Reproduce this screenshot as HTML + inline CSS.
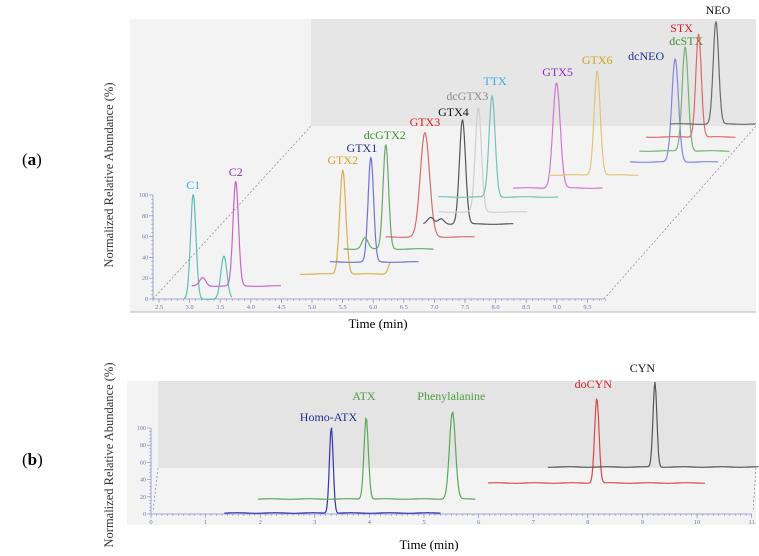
<!DOCTYPE html>
<html><head><meta charset="utf-8"><style>
html,body{margin:0;padding:0;background:#fff;}
svg{display:block;font-family:"Liberation Serif",serif;}
</style></head><body>
<svg id="fig" width="759" height="556" viewBox="0 0 759 556">
<text x="22" y="165" font-size="17">(<tspan font-weight="bold">a</tspan>)</text>
<text x="22" y="465" font-size="17">(<tspan font-weight="bold">b</tspan>)</text>
<g id="pa">
<rect x="130" y="19" width="626" height="293" fill="#f3f3f3"/>
<rect x="311" y="19" width="445" height="107" fill="#e6e6e6"/>
<line x1="130" y1="312" x2="756" y2="312" stroke="#b8b8b8"/>
<line x1="153" y1="299" x2="311" y2="126" stroke="#777" stroke-width="0.6" stroke-dasharray="2,2"/>
<line x1="604" y1="299" x2="756" y2="126" stroke="#777" stroke-width="0.6" stroke-dasharray="2,2"/>
<text x="378" y="328" font-size="13" text-anchor="middle">Time (min)</text>
<text transform="translate(113,175) rotate(-90)" font-size="12.5" text-anchor="middle" fill="#333">Normalized Relative Abundance (%)</text>
</g>
<g id="pb">
<rect x="127" y="381" width="629" height="144" fill="#f3f3f3"/>
<rect x="158" y="381" width="598" height="87" fill="#e4e4e4"/>
<line x1="158" y1="468" x2="153" y2="512" stroke="#777" stroke-width="0.6" stroke-dasharray="2,2"/>
<line x1="756" y1="468" x2="753" y2="512" stroke="#777" stroke-width="0.6" stroke-dasharray="2,2"/>
<text x="429" y="549" font-size="13" text-anchor="middle">Time (min)</text>
<text transform="translate(113,455) rotate(-90)" font-size="12.5" text-anchor="middle" fill="#333">Normalized Relative Abundance (%)</text>
</g>
</svg>
<script>
var NS="http://www.w3.org/2000/svg";
// ---------- Panel (a) data ----------
var aNames=["C1","C2","GTX2","GTX1","dcGTX2","GTX3","GTX4","dcGTX3","TTX","GTX5","GTX6","dcNEO","dcSTX","STX","NEO"];
var aLineColors=["#5cbfb2","#c865c8","#d8b050","#7070d8","#6aa86a","#d86a6a","#555555","#cfcfcf","#72c4b6","#d276d2","#e0c47a","#8585e0","#74b474","#e06868","#6a6a6a"];
var aLabelColors=["#2eaee6","#8e2cb0","#d4a020","#1f2f8e","#3f8f2f","#d42020","#111111","#8a8a8a","#2eaee6","#8e2cc2","#d4a020","#1f2f8e","#3f8f2f","#d42020","#111111"];
var aDepth=[0,13,25,37,50,62,75,87,102,111,124,137,148,162,175];
var aStart=[2.91,2.84,4.43,4.74,4.77,5.28,5.70,5.77,5.54,6.63,7.01,8.15,8.14,8.04,8.24];
var aEnd=[3.69,4.30,5.90,6.19,6.24,6.73,7.17,7.22,7.50,8.09,8.48,9.59,9.61,9.50,9.64];
var aPeakT=[3.06,3.56,5.13,5.41,5.46,5.92,6.34,6.42,6.42,7.34,7.81,8.89,8.89,8.90,8.99];
var aPeakH=[100,100,100,100,100,100,100,100,97,101,100,99,100,99,98];
var aSigma=[0.045,0.045,0.05,0.045,0.045,0.075,0.05,0.05,0.05,0.06,0.05,0.055,0.05,0.045,0.045];
var aLabelDX=[0,0,0,-9,-1,0,-9,-11,3,1,0,-29,1,-17,2];
var aLabelDY=[-6,-6,-6,-6,-6,-7,-4,-8,-11,-7,-7,1,-2,-2,-8];
// secondary peaks: trace index, time, height
var aMinorIdx=[0,1,4,6,6,2];
var aMinorT=[3.56,3.02,5.12,5.82,5.99,5.94];
var aMinorH=[41,8,11,6,5,16];
var aXTicks=["2.5","3.0","3.5","4.0","4.5","5.0","5.5","6.0","6.5","7.0","7.5","8.0","8.5","9.0","9.5"];
var aYTicks=[0,20,40,60,80,100];
// ---------- Panel (b) data ----------
var bNames=["Homo-ATX","ATX","doCYN","CYN"];
var bLineColors=["#3434b4","#5aa85a","#d44a4a","#555555"];
var bLabelColors=["#1f2f8e","#4f9f3f","#d42020","#111111"];
var bDepth=[1,15,31,47];
var bStart=[1.34,1.92,6.09,7.14];
var bEnd=[5.30,5.90,10.06,11.0];
var bPeakT=[3.30,3.90,8.08,9.10];
var bPeakH=[100,95,99,99];
var bSigma=[0.035,0.04,0.04,0.035];
var bLabelT=[3.25,3.9,8.1,9.0];
var bLabelY=[421,400,388,372];
var bMinorIdx=[1];
var bMinorT=[5.48];
var bMinorH=[101];
var bXTicks=["0","1","2","3","4","5","6","7","8","9","10","11"];
var bYTicks=[0,20,40,60,80,100];

function mk(tag,attrs,parent){var e=document.createElementNS(NS,tag);for(var k in attrs)e.setAttribute(k,attrs[k]);parent.appendChild(e);return e;}
function axA(t,d){return 159+(t-2.5)*61.2+d*0.913;}
function ayA(v,d){return 299-d-v*1.04;}
function axB(t,d){return 151+t*54.6+d*0.15;}
function ayB(v,d){return 514-d-v*0.86;}

function drawPanel(g,names,lc,tc,depth,st,en,pt,ph,sg,mi,mt,mh,ax,ay,labelPos){
  for(var i=0;i<names.length;i++){
    var pts=[];
    var n=240;
    for(var k=0;k<=n;k++){
      var t=st[i]+(en[i]-st[i])*k/n;
      var v=ph[i]*Math.exp(-Math.pow(t-pt[i],2)/(2*sg[i]*sg[i]));
      for(var m=0;m<mi.length;m++){ if(mi[m]===i){var s=(mh[m]>50?0.055:0.05); v+=mh[m]*Math.exp(-Math.pow(t-mt[m],2)/(2*s*s));} }
      v+=0.3*Math.sin(t*9+i);
      pts.push(ax(t,depth[i]).toFixed(1)+","+ay(v,depth[i]).toFixed(1));
    }
    var p=mk("polyline",{points:pts.join(" "),fill:"none",stroke:lc[i],"stroke-width":"1.2"},g);
    
    
    var lp=labelPos(i);
    var tx=mk("text",{x:lp[0],y:lp[1],"text-anchor":"middle","font-size":"12",fill:tc[i]},g);
    tx.textContent=names[i];
    
    
  }
}
function drawAxes(g,x0,x1,y0,yTop,ticksX,xs,yTicks,ys,minorStep,tmin,tmax,ax){
  var axis=mk("g",{},g);
  
  
  mk("line",{x1:x0,y1:y0,x2:x1,y2:y0,stroke:"#8a92c0","stroke-width":"0.8"},axis);
  mk("line",{x1:x0,y1:y0,x2:x0,y2:yTop,stroke:"#8a92c0","stroke-width":"0.8"},axis);
  for(var t=tmin;t<=tmax+1e-6;t+=minorStep){var x=ax(t);mk("line",{x1:x,y1:y0,x2:x,y2:y0+2,stroke:"#8a92c0","stroke-width":"0.6"},axis);}
  for(var i=0;i<ticksX.length;i++){
    var x=xs(parseFloat(ticksX[i]));
    mk("line",{x1:x,y1:y0,x2:x,y2:y0+4,stroke:"#8a92c0","stroke-width":"0.7"},axis);
    var tt=mk("text",{x:x,y:y0+10,"font-size":"6.5","text-anchor":"middle",fill:"#6c78b0"},axis);
    tt.textContent=ticksX[i];
    
    
  }
  for(var j=0;j<yTicks.length;j++){
    var y=ys(yTicks[j]);
    mk("line",{x1:x0-4,y1:y,x2:x0,y2:y,stroke:"#8a92c0","stroke-width":"0.7"},axis);
    if(j<yTicks.length-1){for(var q=1;q<5;q++){var yy=y+(ys(yTicks[j+1])-y)*q/5;mk("line",{x1:x0-2,y1:yy,x2:x0,y2:yy,stroke:"#8a92c0","stroke-width":"0.5"},axis);}}
    var yt=mk("text",{x:x0-5,y:y+2,"font-size":"6","text-anchor":"end",fill:"#6c78b0"},axis);
    yt.textContent=yTicks[j];
    
    
  }
}
var ga=document.getElementById("pa"), gb=document.getElementById("pb");
drawAxes(ga,153,604,299,195,aXTicks,function(t){return axA(t,0);},aYTicks,function(v){return ayA(v,0);},0.1,2.4,9.8,function(t){return axA(t,0);});
drawPanel(ga,aNames,aLineColors,aLabelColors,aDepth,aStart,aEnd,aPeakT,aPeakH,aSigma,aMinorIdx,aMinorT,aMinorH,axA,ayA,function(i){return [axA(aPeakT[i],aDepth[i])+aLabelDX[i], ayA(aPeakH[i],aDepth[i])+aLabelDY[i]];});
drawAxes(gb,151,752,514,428,bXTicks,function(t){return axB(t,0);},bYTicks,function(v){return ayB(v,0);},0.1,0,11,function(t){return axB(t,0);});
drawPanel(gb,bNames,bLineColors,bLabelColors,bDepth,bStart,bEnd,bPeakT,bPeakH,bSigma,bMinorIdx,bMinorT,bMinorH,axB,ayB,function(i){return [axB(bLabelT[i],0), bLabelY[i]];});
var ph=mk("text",{x:axB(5.5,0),y:400,"text-anchor":"middle","font-size":"12",fill:"#4f9f3f"},gb);
ph.textContent="Phenylalanine";


</script>
</body></html>
